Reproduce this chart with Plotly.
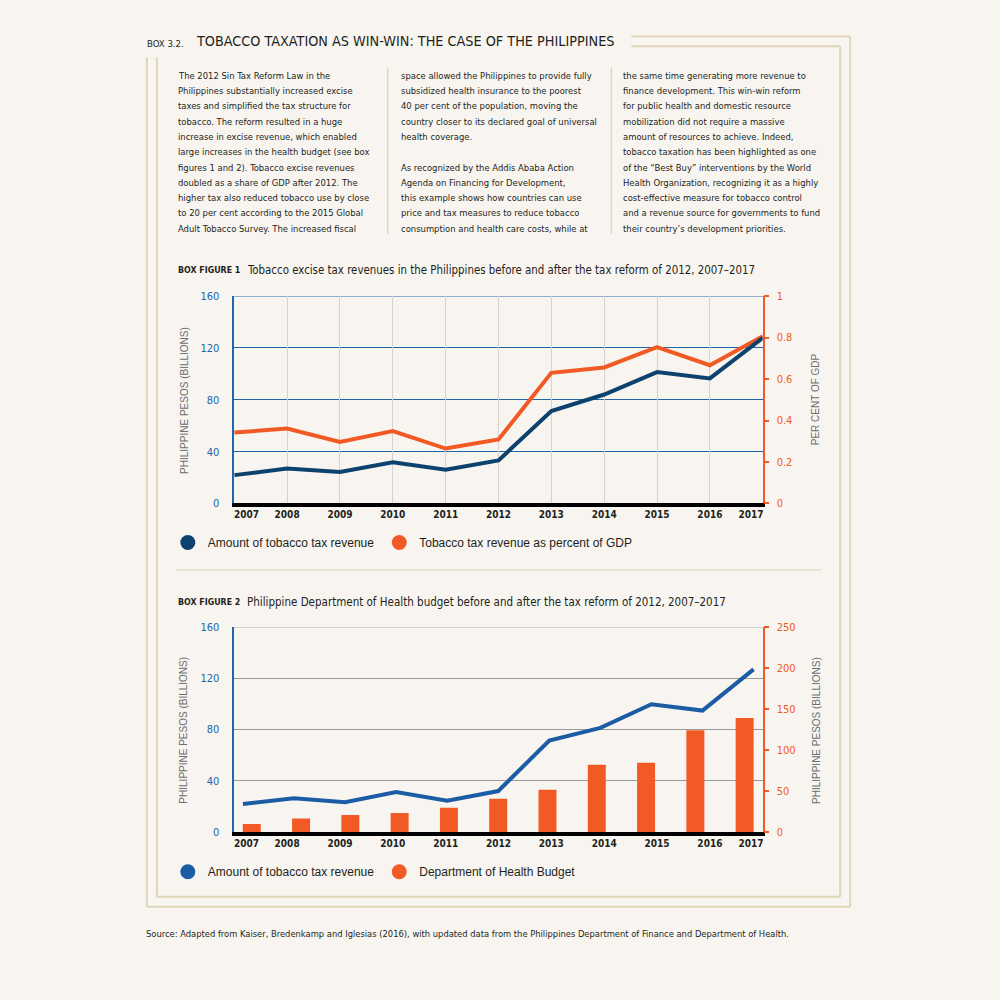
import plotly.graph_objects as go

# ---------------- data ----------------
years = [2007, 2008, 2009, 2010, 2011, 2012, 2013, 2014, 2015, 2016, 2017]
year_labels = [str(y) for y in years]
tax_revenue_bn = [21.9, 27.0, 24.4, 31.9, 26.0, 33.2, 71.3, 84.1, 101.4, 96.5, 127.8]
tax_pct_gdp = [0.342, 0.362, 0.297, 0.349, 0.265, 0.309, 0.630, 0.656, 0.754, 0.667, 0.807]
tax_revenue_bn_fig2 = [22.0, 26.4, 23.3, 31.3, 24.6, 32.1, 71.5, 81.3, 99.7, 94.8, 126.9]
doh_budget_bn = [10.1, 16.6, 21.0, 23.5, 29.9, 40.9, 51.8, 82.1, 84.5, 124.2, 139.2]
left_ticks = [0, 40, 80, 120, 160]
pct_ticks = [0, 0.2, 0.4, 0.6, 0.8, 1]
budget_ticks = [0, 50, 100, 150, 200, 250]

box_label = "BOX 3.2."
box_title = "TOBACCO TAXATION AS WIN-WIN: THE CASE OF THE PHILIPPINES"
col1 = [
    "The 2012 Sin Tax Reform Law in the",
    "Philippines substantially increased excise",
    "taxes and simplified the tax structure for",
    "tobacco. The reform resulted in a huge",
    "increase in excise revenue, which enabled",
    "large increases in the health budget (see box",
    "figures 1 and 2). Tobacco excise revenues",
    "doubled as a share of GDP after 2012. The",
    "higher tax also reduced tobacco use by close",
    "to 20 per cent according to the 2015 Global",
    "Adult Tobacco Survey. The increased fiscal",
]
col2 = [
    "space allowed the Philippines to provide fully",
    "subsidized health insurance to the poorest",
    "40 per cent of the population, moving the",
    "country closer to its declared goal of universal",
    "health coverage.",
    "",
    "As recognized by the Addis Ababa Action",
    "Agenda on Financing for Development,",
    "this example shows how countries can use",
    "price and tax measures to reduce tobacco",
    "consumption and health care costs, while at",
]
col3 = [
    "the same time generating more revenue to",
    "finance development. This win-win reform",
    "for public health and domestic resource",
    "mobilization did not require a massive",
    "amount of resources to achieve. Indeed,",
    "tobacco taxation has been highlighted as one",
    "of the \u201cBest Buy\u201d interventions by the World",
    "Health Organization, recognizing it as a highly",
    "cost-effective measure for tobacco control",
    "and a revenue source for governments to fund",
    "their country\u2019s development priorities.",
]
fig1_label = "BOX FIGURE 1"
fig1_title = "Tobacco excise tax revenues in the Philippines before and after the tax reform of 2012, 2007\u20132017"
fig2_label = "BOX FIGURE 2"
fig2_title = "Philippine Department of Health budget before and after the tax reform of 2012, 2007\u20132017"
left_axis_title = "PHILIPPINE PESOS (BILLIONS)"
pct_axis_title = "PER CENT OF GDP"
budget_axis_title = "PHILIPPINE PESOS (BILLIONS)"
legend1_names = ["Amount of tobacco tax revenue", "Tobacco tax revenue as percent of GDP"]
legend2_names = ["Amount of tobacco tax revenue", "Department of Health Budget"]
source_text = ("Source: Adapted from Kaiser, Bredenkamp and Iglesias (2016), with updated data from the "
               "Philippines Department of Finance and Department of Health.")

# ---------------- style ----------------
BG = "#F8F5F0"
BORDER = "#DFD5BB"
NAVY = "#0E426E"
BLUE = "#1B5CA4"
ORANGE = "#F15A24"
AXIS_BLUE = "#2266AA"
TEXT = "#231F20"
GRAY = "#6D6E71"
COND = "DejaVu Sans Condensed, Liberation Sans, sans-serif"
SANS = "Liberation Sans, Arial, sans-serif"

W = H = 1000.0
# vertical placement helper (maps a target page row to paper fraction,
# compensating for the small vertical offset/scale seen in the rendered page)
V_OFF, V_SCALE = 5.6, 0.9878
def px(xp):
    return xp / W
def py(yp):
    return 1 - ((yp - V_OFF) / V_SCALE) / H

XDOM = [px(234.5), px(763.5)]
Y1DOM = [py(503.5), py(296)]
Y2DOM = [py(832.5), py(627)]

# label positions: interior years at gridlines, end labels nudged inward
label_pos = [years[0] + 0.23] + years[1:-1] + [years[-1] - 0.22]

fig = go.Figure()

# Figure 1 traces
fig.add_trace(go.Scatter(x=years, y=tax_pct_gdp, xaxis="x", yaxis="y2", mode="lines",
                         line=dict(color=ORANGE, width=4), showlegend=False, hoverinfo="skip"))
fig.add_trace(go.Scatter(x=years, y=tax_revenue_bn, xaxis="x5", yaxis="y", mode="lines",
                         line=dict(color=NAVY, width=4), showlegend=False, hoverinfo="skip"))
fig.add_trace(go.Scatter(x=[None], y=[None], xaxis="x", yaxis="y", mode="markers",
                         marker=dict(color=NAVY, size=15), name=legend1_names[0], legend="legend"))
fig.add_trace(go.Scatter(x=[None], y=[None], xaxis="x", yaxis="y", mode="markers",
                         marker=dict(color=ORANGE, size=15), name=legend1_names[1], legend="legend"))

# Figure 2 traces
fig.add_trace(go.Bar(x=years, y=doh_budget_bn, xaxis="x3", yaxis="y4", width=0.365,
                     marker=dict(color=ORANGE, line=dict(width=0)), showlegend=False, hoverinfo="skip"))
fig.add_trace(go.Scatter(x=years, y=tax_revenue_bn_fig2, xaxis="x4", yaxis="y3", mode="lines",
                         line=dict(color=BLUE, width=4), showlegend=False, hoverinfo="skip"))
fig.add_trace(go.Scatter(x=[None], y=[None], xaxis="x2", yaxis="y3", mode="markers",
                         marker=dict(color=BLUE, size=15), name=legend2_names[0], legend="legend2"))
fig.add_trace(go.Scatter(x=[None], y=[None], xaxis="x2", yaxis="y3", mode="markers",
                         marker=dict(color=ORANGE, size=15), name=legend2_names[1], legend="legend2"))

xlabel_axis = dict(domain=XDOM, range=[years[0], years[-1]], tickmode="array",
                   tickvals=label_pos, ticktext=year_labels, ticks="", showgrid=False,
                   zeroline=False, showline=True, linecolor="#000000", linewidth=4,
                   tickfont=dict(family=COND, size=10, color=TEXT, weight="bold"),
                   ticklabelstandoff=-1, fixedrange=True)

left_axis = dict(range=[0, 160], tickmode="array", tickvals=left_ticks, ticks="",
                 showline=True, linecolor=AXIS_BLUE, linewidth=1.5, zeroline=False,
                 tickfont=dict(family=COND, size=11, color=AXIS_BLUE),
                 ticklabelstandoff=11, fixedrange=True)
right_axis_common = dict(side="right", showgrid=False, zeroline=False, showline=True,
                         linecolor=ORANGE, linewidth=1.5, ticks="outside", ticklen=5,
                         tickwidth=1.5, tickcolor=ORANGE,
                         tickfont=dict(family=COND, size=11, color=ORANGE),
                         ticklabelstandoff=5, fixedrange=True)

legend_common = dict(orientation="h", xanchor="left", yanchor="middle",
                     bgcolor="rgba(0,0,0,0)", font=dict(family=SANS, size=12, color=TEXT),
                     itemclick=False, itemdoubleclick=False)

fig.update_layout(
    width=1000, height=1000, autosize=False,
    margin=dict(l=0, r=0, t=0, b=0),
    paper_bgcolor=BG, plot_bgcolor="rgba(0,0,0,0)",
    xaxis=dict(anchor="y", **xlabel_axis),
    xaxis5=dict(domain=XDOM, range=[years[0], years[-1]], overlaying="x", anchor="y",
                tickmode="array", tickvals=years[1:-1], showticklabels=False, ticks="",
                showgrid=True, gridcolor="#D6D3CD", gridwidth=1, showline=False,
                zeroline=False, fixedrange=True),
    yaxis=dict(domain=Y1DOM, anchor="x", showgrid=True, gridcolor=AXIS_BLUE, gridwidth=1,
               **left_axis),
    yaxis2=dict(domain=Y1DOM, anchor="x", overlaying="y", range=[0, 1], tickmode="array",
                tickvals=pct_ticks, **right_axis_common),
    xaxis2=dict(anchor="y3", **xlabel_axis),
    xaxis3=dict(domain=XDOM, range=[2006.645, 2017.367], overlaying="x2", anchor="y3",
                visible=False, fixedrange=True),
    xaxis4=dict(domain=XDOM, range=[2006.83, 2017.18], overlaying="x2", anchor="y3",
                visible=False, fixedrange=True),
    yaxis3=dict(domain=Y2DOM, anchor="x2", showgrid=True, gridcolor="#9A9A9A", gridwidth=1,
                **left_axis),
    yaxis4=dict(domain=Y2DOM, anchor="x2", overlaying="y3", range=[0, 250], tickmode="array",
                tickvals=budget_ticks, **right_axis_common),
    legend=dict(x=px(168), y=py(542.5), **legend_common),
    legend2=dict(x=px(168), y=py(872), **legend_common),
)

ann = []
def text(x, y, s, size, family=COND, color=TEXT, xanchor="left", angle=0, bold=False):
    ann.append(dict(x=x, y=y, xref="paper", yref="paper", text=s, showarrow=False,
                    xanchor=xanchor, yanchor="middle", textangle=angle,
                    font=dict(family=family, size=size, color=color,
                              weight="bold" if bold else "normal")))

# box title
text(px(145), py(43), box_label, 9.5)
text(px(194), py(41), box_title, 14.3)

# body columns
for cx, lines in [(176, col1), (399, col2), (622, col3)]:
    for i, line in enumerate(lines):
        if line:
            text(px(cx), py(75 + i * 15.3), line, 9.4)

# figure titles
text(px(176), py(270), fig1_label, 8.8, bold=True)
text(px(245), py(270), fig1_title, 11.4)
text(px(176), py(602), fig2_label, 8.8, bold=True)
text(px(245), py(602), fig2_title, 11.5)

# axis titles
text(px(184), py(400), left_axis_title, 10, family=SANS, color=GRAY, xanchor="center", angle=-90)
text(px(816), py(399), pct_axis_title, 10, family=SANS, color=GRAY, xanchor="center", angle=-90)
text(px(184), py(730), left_axis_title, 10, family=SANS, color=GRAY, xanchor="center", angle=-90)
text(px(818), py(731), budget_axis_title, 10, family=SANS, color=GRAY, xanchor="center", angle=-90)

# source
text(px(144), py(934), source_text, 9.3)

fig.update_layout(annotations=ann)

shapes = []
def hline(x0, x1, y, color=BORDER, width=2):
    shapes.append(dict(type="line", xref="paper", yref="paper", x0=px(x0), x1=px(x1),
                       y0=py(y), y1=py(y), line=dict(color=color, width=width)))
def vline(x, y0, y1, color=BORDER, width=2):
    shapes.append(dict(type="line", xref="paper", yref="paper", x0=px(x), x1=px(x),
                       y0=py(y0), y1=py(y1), line=dict(color=color, width=width)))

# double frame
hline(632, 851, 36); hline(632, 841, 46)
vline(851, 36, 907); vline(841, 46, 897)
hline(147, 851, 907); hline(157, 841, 897)
vline(147, 57, 907); vline(157, 57, 897)
# column separators
vline(388, 67, 234, color="#DDD6C6", width=1.5)
vline(612, 67, 234, color="#DDD6C6", width=1.5)
# separator between figures
hline(177, 822, 570, color="#E6DDC8", width=1.5)
# top frame line of each plot at the highest tick
shapes.append(dict(type="line", xref="x domain", yref="y", x0=0, x1=1,
                   y0=left_ticks[-1], y1=left_ticks[-1], line=dict(color=AXIS_BLUE, width=1),
                   layer="below"))
shapes.append(dict(type="line", xref="x2 domain", yref="y3", x0=0, x1=1,
                   y0=left_ticks[-1], y1=left_ticks[-1], line=dict(color="#8E98A6", width=1),
                   layer="below"))

fig.update_layout(shapes=shapes)

page_css = ("html,body{margin:0 !important;padding:0 !important;overflow:hidden !important;"
            "height:1000px;background:" + BG + ";}")
fig.write_html(
    "out.html",
    config={"displayModeBar": False},
    post_script=("var s=document.createElement('style');s.textContent='" + page_css + "';"
                 "document.head.appendChild(s);"),
)
